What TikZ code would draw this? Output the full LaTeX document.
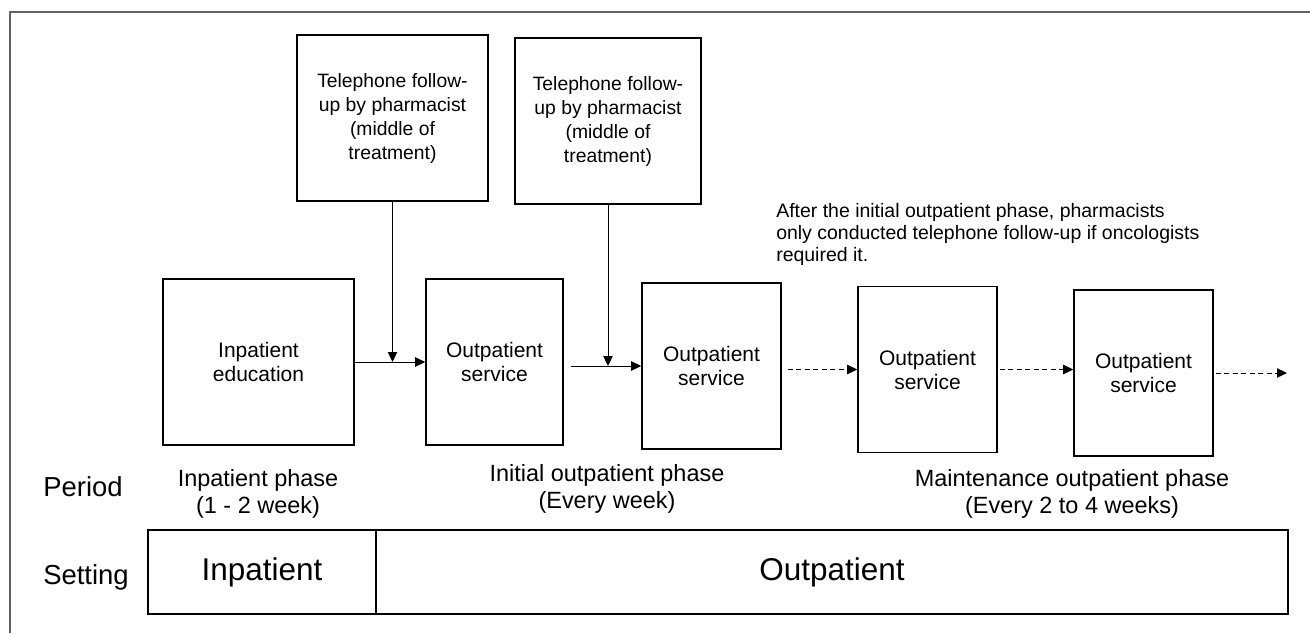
\documentclass[tikz,border=0pt]{standalone}
\usepackage{fontspec}
\setmainfont{Liberation Sans}
\usetikzlibrary{arrows.meta,calc}
\begin{document}
\begin{tikzpicture}[x=0.75pt,y=-0.75pt,
  box/.style={draw,line width=1.15pt,rectangle,inner sep=0pt,align=center,minimum height=124.5pt,font=\fontsize{15.75}{18}\selectfont},
  telbox/.style={box,font=\fontsize{14.5}{18}\selectfont},
  barbox/.style={draw,line width=1.15pt,rectangle,inner sep=0pt,minimum height=63pt,font=\fontsize{23.6}{28}\selectfont},
  arr/.style={line width=0.75pt,-{Triangle[length=7.5pt,width=7pt]}},
  darr/.style={arr,dash pattern=on 3.75pt off 2.6pt},
  lbl/.style={inner sep=0pt,align=center,font=\fontsize{17.6}{20.5}\selectfont},
  side/.style={inner sep=0pt,anchor=west,font=\fontsize{20.6}{24}\selectfont},
  note/.style={inner sep=0pt,align=left,anchor=north west,font=\fontsize{14.6}{16.5}\selectfont},
  frameline/.style={draw=black!62,line width=1.2pt}]
\useasboundingbox (0,0) rectangle (1310,633);
\draw[frameline] (10,633) -- (10,12) -- (1310,12);

\node[telbox,minimum width=143.25pt] (tel1) at (392.5,118) {Telephone follow-\\up by pharmacist\\(middle of\\treatment)};
\node[telbox,minimum width=139.5pt] (tel2) at (608,121) {Telephone follow-\\up by pharmacist\\(middle of\\treatment)};

\node[box,minimum width=143.25pt] (inp) at (258.5,362) {Inpatient\\education};
\node[box,minimum width=102.75pt] (out1) at (494.5,362) {Outpatient\\service};
\node[box,minimum width=104.25pt] (out2) at (711.5,366) {Outpatient\\service};
\node[box,minimum width=104.25pt] (out3) at (927.5,369.5) {Outpatient\\service};
\node[box,minimum width=104.25pt] (out4) at (1143.5,373) {Outpatient\\service};

\node[note] (note) at (776,203) {After the initial outpatient phase, pharmacists\\only conducted telephone follow-up if oncologists\\required it.};

\draw[arr] (inp.east) -- (out1.west);
\coordinate (j1) at (tel1.south |- inp.east);
\draw[arr] (tel1.south) -- (j1);
\coordinate (s2) at ([xshift=5.25pt]out1.east |- out2.west);
\draw[arr] (s2) -- (out2.west);
\coordinate (j2) at (tel2.south |- out2.west);
\draw[arr] (tel2.south) -- (j2);
\draw[darr] ([xshift=4.5pt]out2.east |- out3.west) -- (out3.west);
\draw[darr] ([xshift=1.5pt]out3.east) -- (out3.east -| out4.west);
\coordinate (end) at (1287,373);
\draw[darr] ([xshift=1.5pt]out4.east) -- (end);

\node[side] (period) at (43,487) {Period};
\node[side] (setting) at (43,577) {Setting};
\node[lbl] (ph1) at (258,494) {Inpatient phase\\(1 - 2 week)};
\node[lbl] (ph2) at (607,489) {Initial outpatient phase\\(Every week)};
\node[lbl] (ph3) at (1072,494) {Maintenance outpatient phase\\(Every 2 to 4 weeks)};

\node[barbox,minimum width=171pt] (inbar) at (262,572) {Inpatient};
\node[barbox,minimum width=684pt] (outbar) at (832,572) {Outpatient};
\end{tikzpicture}
\end{document}
